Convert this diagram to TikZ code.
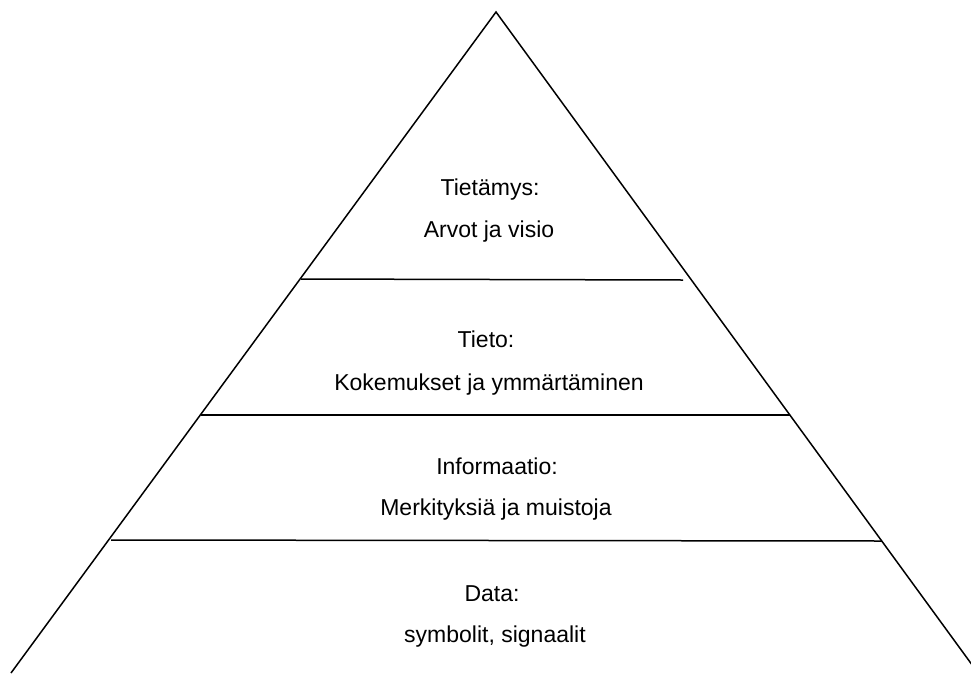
\documentclass[tikz,border=0pt]{standalone}
\usepackage{fontspec}
\setmainfont{Liberation Sans}
\begin{document}
\begin{tikzpicture}[x=1pt,y=-1pt,
  edge/.style={line width=1.5pt,black},
  label/.style={anchor=base,inner sep=0pt,font=\fontsize{23}{28}\selectfont}]
\useasboundingbox (0,0) rectangle (971,675);
\clip (0,0) rectangle (971,675);
% outline of the pyramid
\coordinate (apex) at (496,12);
\coordinate (bl) at (11,673);
\coordinate (br) at (978,673);
\draw[edge] (bl) -- (apex) -- (br);
% level dividers
\coordinate (l1a) at (301,279);
\coordinate (l1b) at (683,280);
\coordinate (l2a) at (201,415);
\coordinate (l2b) at (790,415);
\coordinate (l3a) at (111,540);
\coordinate (l3b) at (882,541);
\draw[edge] (l1a) -- (l1b);
\draw[edge] (l2a) -- (l2b);
\draw[edge] (l3a) -- (l3b);
% level labels
\node[label] (t1) at (490,195) {Tietämys:};
\node[label] (t2) at (489,237) {Arvot ja visio};
\node[label] (t3) at (486,347) {Tieto:};
\node[label] (t4) at (489,390) {Kokemukset ja ymmärtäminen};
\node[label] (t5) at (497,474) {Informaatio:};
\node[label] (t6) at (496,515) {Merkityksiä ja muistoja};
\node[label] (t7) at (492,601) {Data:};
\node[label] (t8) at (495,642) {symbolit, signaalit};
\end{tikzpicture}
\end{document}
